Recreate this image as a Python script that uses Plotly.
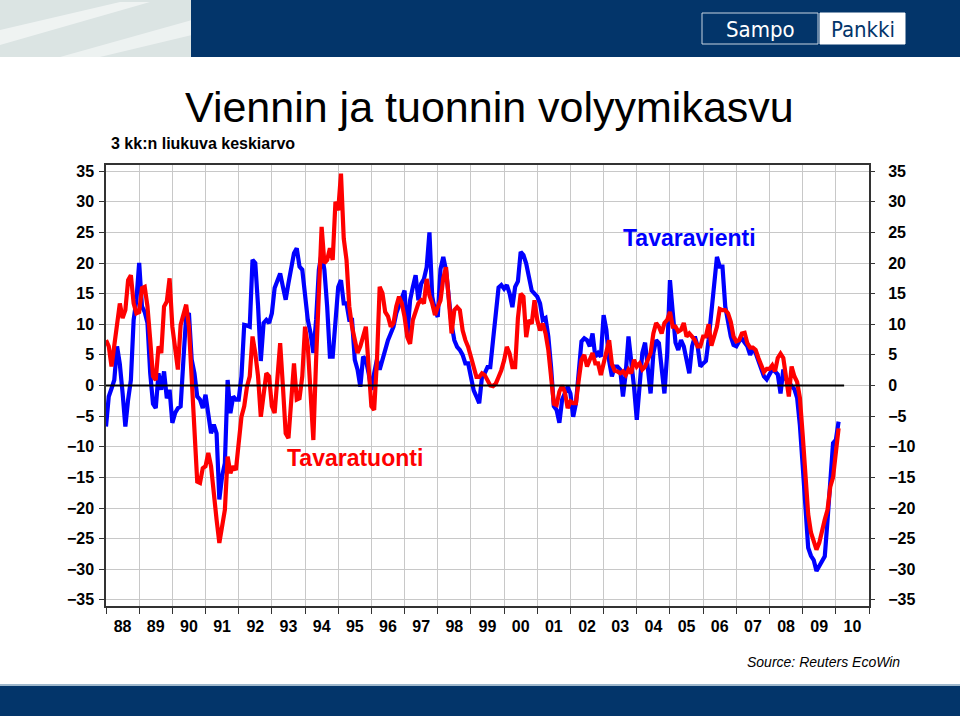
import plotly.graph_objects as go

# ---------------- data (3-month moving average, % y/y), monthly from Jan 1988 ----------------
start_year = 1988
year_labels = ["88", "89", "90", "91", "92", "93", "94", "95", "96", "97", "98", "99",
               "00", "01", "02", "03", "04", "05", "06", "07", "08", "09", "10"]

vienti = [  # Tavaravienti (blue)
    -6.7, -1.8, -0.5, 0.9, 6.4, 3.5, -1.2, -6.7, -2.3, 0.9, 10.7, 14,
    20, 12.9, 12, 10.2, 2, -3, -3.7, 2, -0.7, 2.3, -2.1, -0.7,
    -6.1, -4.5, -3.7, -3.4, 4.2, 11.3, 11.8, 4.2, 2, -1.8, -2.3, -3.7,
    -1.5, -4.5, -7.8, -6.4, -7.8, -18.6, -14.8, -12.7, 0.9, -4.5, -1.8, -2.3,
    -2.3, 1.5, 9.9, 9.8, 9.6, 20.5, 20, 13, 4, 10.2, 10.7, 10.2,
    11.8, 15.9, 17, 18.3, 16.1, 14, 16.7, 19.4, 21.6, 22.4, 19.4, 18.9,
    15.1, 10.7, 8.5, 5.3, 10.7, 18.9, 21.6, 18.9, 12.9, 4.7, 4.7, 11.3,
    16.1, 17.2, 13.4, 13.4, 10.7, 10.7, 4.2, 2.6, -0.2, 4.7, 4.2, 2,
    -0.7, 2, 4.2, 2.6, 4.2, 6.4, 7.4, 8.5, 9.6, 11.8, 13, 14.5,
    15.5, 8, 13.9, 16.1, 18, 13.9, 16.6, 17.4, 19.3, 25, 14.5, 12.3,
    11.2, 19, 21, 18.8, 14, 10, 7.4, 6.3, 5.8, 5, 3.6, 3.6,
    1.4, -0.8, -1.8, -2.9, 1.4, 2, 3, 3, 7.4, 12.5, 16, 16.4,
    15.8, 16.4, 15, 12.8, 16.1, 17, 21.8, 21.3, 19.9, 17.7, 15.5, 15,
    14.5, 13.4, 10.7, 11, 8, 3, -3.4, -4, -6.1, -2.3, -1.3, -0.2,
    -1.3, -5.1, -2.9, 3, 7.2, 7.7, 7.4, 6.4, 8.5, 4.7, 5.3, 4.7,
    11.5, 9.1, 4, 1.5, 3.1, 3.1, 2.6, -1.8, 2, 8, 4.2, -0.2,
    -5.6, -0.2, 5.3, 7, 3, -1.3, 5.3, 7.4, 6.9, 2.6, -1.3, 5.3,
    17.2, 12, 7, 5.8, 7.4, 6.4, 4.2, 2, 6.4, 8, 6.4, 3.1,
    3.6, 4, 7.5, 12, 17, 21, 19.4, 19.4, 12.9, 10.5, 8, 6.6,
    6.4, 7.2, 7.7, 7, 6.4, 5, 6, 5.3, 4, 2.5, 1.5, 1,
    1.8, 2.6, 2.3, 1.8, -1.3, 2.6, 1, 0.6, -0.1, -0.6, -2, -6.5,
    -13, -21, -26.5, -27.8, -28.5, -30.3, -29.5, -28.4, -27.9, -22, -14.5, -9.4,
    -8.9, -5.9,
]

tuonti = [  # Tavaratuonti (red)
    7.4, 6.4, 3.1, 6.4, 9.6, 13.4, 11, 12.3, 17.2, 18, 13.4, 11.8,
    12, 15.9, 16.1, 12.9, 7.4, 1.5, 0.9, 6.4, 5.3, 12.9, 13.7, 17.5,
    9.6, 5.3, 2.6, 9.9, 11.8, 13.2, 9.6, 1.5, -7.8, -15.7, -15.9, -13.5,
    -13.2, -11, -13.2, -18.1, -21.9, -25.7, -23, -20.3, -11.6, -14.3, -13.2, -13.8,
    -9.4, -5.1, -3.4, -0.2, 1.5, 8, 5.3, 1.5, -5.1, -1.3, 2, 1.5,
    -3.4, -4.5, 2, 6.9, -0.2, -7.8, -8.6, -2.3, 3.6, -2.3, -2.1, 1.5,
    9.6, 6.4, -1.3, -8.9, 4.2, 16.1, 25.9, 20, 20.5, 22.4, 20.5, 30,
    28.6, 34.6, 24, 20.5, 12.9, 9.6, 7.4, 5.3, 6.4, 8, 9.6, 3.1,
    -3.4, -4, 4, 16.1, 15.1, 12, 11.3, 9.6, 10.2, 12.9, 14.5, 13.4,
    11.2, 7.9, 6.8, 10.7, 12.3, 13.4, 13.9, 13.4, 17.4, 14.7, 13.4, 11.5,
    12.8, 13.9, 17.5, 19.3, 14, 8.5, 12.3, 12.8, 12.3, 9, 7.4, 6.3,
    4.7, 3, 1.4, 1.4, 2, 1.7, 0.9, 0, -0.1, 0.3, 1.4, 2.5,
    4.1, 6.3, 5.2, 3, 3, 11, 15, 14.5, 7.9, 10.7, 10.1, 13.9,
    10.7, 9, 10.1, 8.5, 5.8, 1.5, -3, -3.2, -1, 0, -1.1, -3.7,
    -2.6, -2.9, -2.9, 0.9, 4.2, 5, 3.1, 4.2, 5.3, 3.6, 3.6, 1.7,
    3.6, 5.8, 7.4, 3.5, 2.4, 2.3, 2, 2.3, 1.7, 2.6, 2, 4.2,
    3.1, 3.6, 2.6, 3.1, 4.2, 5.3, 8.5, 10.2, 9.6, 8.5, 10.2, 10.7,
    12, 9.6, 9.6, 8.8, 9.1, 10.2, 8, 8.5, 8, 7.4, 6.4, 6.4,
    8, 8, 10, 6.5, 8, 9.6, 12.5, 12.3, 12.3, 11.8, 10.4, 8,
    7.2, 7.4, 8.5, 8.6, 6.9, 6.2, 6.2, 5.8, 4.5, 3.1, 2.2, 2.7,
    2.7, 3.3, 2.3, 4.5, 5.2, 4.5, 1.5, -1.8, 3.1, 1.5, 0.6, -2,
    -8, -15, -21, -24, -25.7, -26.8, -25.7, -23.5, -21.9, -20.3, -16.5, -15,
    -11, -7,
]

y_ticks = list(range(-35, 40, 5))

# ---------------- helpers ----------------
W, H = 960, 716
L, R, T, B = 106, 869, 165, 606  # plot area in pixels

def pxx(x):
    return (x - L) / (R - L)

def pxy(y):
    return (B - y) / (B - T)

months = [start_year + i / 12 for i in range(len(vienti))]
mid_years = [start_year + i + 0.5 for i in range(len(year_labels))]

SANS = "Liberation Sans, Arial, sans-serif"
NAVY = "#03356A"

fig = go.Figure()

fig.add_trace(go.Scatter(x=months, y=vienti, mode="lines", name="Tavaravienti",
                         line=dict(color="#0000FF", width=4.2), hoverinfo="skip"))
fig.add_trace(go.Scatter(x=months, y=tuonti, mode="lines", name="Tavaratuonti",
                         line=dict(color="#FF0000", width=4.2), hoverinfo="skip"))
# invisible trace to activate the right-hand axis
fig.add_trace(go.Scatter(x=[start_year], y=[0], yaxis="y2", mode="markers",
                         marker=dict(opacity=0), showlegend=False, hoverinfo="skip"))

shapes = []
# zero line
shapes.append(dict(type="line", xref="x", yref="y", x0=start_year, x1=2010.25, y0=0, y1=0,
                   line=dict(color="black", width=2), layer="above"))
# header
shapes.append(dict(type="rect", xref="paper", yref="paper", x0=pxx(0), x1=pxx(192),
                   y0=pxy(0), y1=pxy(57), fillcolor="#dbe4e3", line=dict(width=0), layer="below"))
shapes.append(dict(type="path", xref="paper", yref="paper",
                   path="M %f,%f L %f,%f L %f,%f L %f,%f Z" % (pxx(0), pxy(30), pxx(120), pxy(2),
                                                                pxx(150), pxy(2), pxx(0), pxy(45)),
                   fillcolor="rgba(255,255,255,0.55)", line=dict(width=0), layer="below"))
shapes.append(dict(type="path", xref="paper", yref="paper",
                   path="M %f,%f L %f,%f L %f,%f L %f,%f Z" % (pxx(60), pxy(57), pxx(192), pxy(20),
                                                                pxx(192), pxy(35), pxx(100), pxy(57)),
                   fillcolor="rgba(255,255,255,0.5)", line=dict(width=0), layer="below"))
shapes.append(dict(type="rect", xref="paper", yref="paper", x0=pxx(191), x1=pxx(960),
                   y0=pxy(0), y1=pxy(57), fillcolor=NAVY, line=dict(width=0), layer="below"))
# logo boxes
shapes.append(dict(type="rect", xref="paper", yref="paper", x0=pxx(702), x1=pxx(818),
                   y0=pxy(13), y1=pxy(44), fillcolor=NAVY, line=dict(color="#c8d4e0", width=1)))
shapes.append(dict(type="rect", xref="paper", yref="paper", x0=pxx(820), x1=pxx(905),
                   y0=pxy(13), y1=pxy(44), fillcolor="white", line=dict(color="white", width=1)))
# footer
shapes.append(dict(type="rect", xref="paper", yref="paper", x0=pxx(0), x1=pxx(960),
                   y0=pxy(684), y1=pxy(686), fillcolor="#9fb8cc", line=dict(width=0), layer="below"))
shapes.append(dict(type="rect", xref="paper", yref="paper", x0=pxx(0), x1=pxx(960),
                   y0=pxy(686), y1=pxy(716), fillcolor=NAVY, line=dict(width=0), layer="below"))

annotations = [
    dict(text="Viennin ja tuonnin volyymikasvu", xref="paper", yref="paper",
         x=pxx(490), y=pxy(107), xanchor="center", yanchor="middle", showarrow=False,
         font=dict(family=SANS, size=43, color="black")),
    dict(text="<b>3 kk:n liukuva keskiarvo</b>", xref="paper", yref="paper",
         x=pxx(109), y=pxy(143), xanchor="left", yanchor="middle", showarrow=False,
         font=dict(family=SANS, size=16, color="black")),
    dict(text="<b>Tavaravienti</b>", xref="x", yref="y", x=2005.6, y=24.1,
         xanchor="center", yanchor="middle", showarrow=False,
         font=dict(family=SANS, size=23, color="#0000FF")),
    dict(text="<b>Tavaratuonti</b>", xref="x", yref="y", x=1995.5, y=-11.8,
         xanchor="center", yanchor="middle", showarrow=False,
         font=dict(family=SANS, size=23, color="#FF0000")),
    dict(text="<i>Source: Reuters EcoWin</i>", xref="paper", yref="paper",
         x=pxx(902), y=pxy(662), xanchor="right", yanchor="middle", showarrow=False,
         font=dict(family=SANS, size=14, color="black")),
    dict(text="Sampo", xref="paper", yref="paper", x=pxx(760), y=pxy(29.5),
         xanchor="center", yanchor="middle", showarrow=False,
         font=dict(family="DejaVu Sans Condensed, DejaVu Sans, sans-serif", size=22, color="white")),
    dict(text="Pankki", xref="paper", yref="paper", x=pxx(862.5), y=pxy(29.5),
         xanchor="center", yanchor="middle", showarrow=False,
         font=dict(family="DejaVu Sans Condensed, DejaVu Sans, sans-serif", size=22, color=NAVY)),
]

tickfont = dict(family=SANS, size=16, color="black", weight="bold")

fig.update_layout(
    width=W, height=H,
    margin=dict(l=L, r=W - R, t=T, b=H - B, pad=0),
    paper_bgcolor="white", plot_bgcolor="white",
    showlegend=False,
    shapes=shapes,
    annotations=annotations,
    xaxis=dict(
        range=[start_year, start_year + len(year_labels)],
        tickmode="array", tickvals=mid_years, ticktext=year_labels,
        ticks="", showgrid=False, tickfont=tickfont, ticklabelstandoff=5,
        showline=True, linecolor="#333333", linewidth=1.5, mirror=True,
        zeroline=False,
        minor=dict(tickmode="linear", tick0=start_year, dtick=1, ticks="outside",
                   ticklen=6, tickcolor="#333333", showgrid=True,
                   gridcolor="#c8c8c8", gridwidth=1.3),
    ),
    yaxis=dict(
        range=[-36, 36], tickmode="array", tickvals=y_ticks,
        ticks="outside", ticklen=5, tickcolor="#333333",
        showgrid=True, gridcolor="#c8c8c8", gridwidth=1.3,
        tickfont=tickfont, showline=True, linecolor="#333333", linewidth=1.5,
        mirror=True, zeroline=False, ticklabelstandoff=2,
    ),
    yaxis2=dict(
        range=[-36, 36], tickmode="array", tickvals=y_ticks, overlaying="y", side="right",
        ticks="outside", ticklen=5, tickcolor="#333333", showgrid=False,
        tickfont=tickfont, showline=False, zeroline=False, ticklabelstandoff=10,
    ),
)

fig.write_html("out.html", config={"displayModeBar": False},
               post_script="document.body.style.margin='0px';"
                           "document.body.style.overflow='hidden';")
